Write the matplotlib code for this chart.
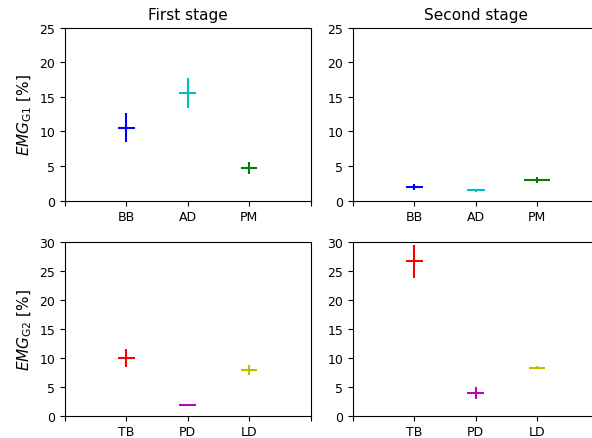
import matplotlib
matplotlib.use('Agg')
import matplotlib.pyplot as plt

# muscles and values
muscles_g1 = ['BB', 'AD', 'PM']
muscles_g2 = ['TB', 'PD', 'LD']
colors_g1 = ['b', 'c', 'g']
colors_g2 = ['r', 'm', 'y']

# first stage
g1_first = [10.5, 15.5, 4.7]
g1_first_err = [2.1, 2.15, 0.8]
g1_first_xerr = [0.136, 0.136, 0.13]
g2_first = [10.0, 1.9, 7.9]
g2_first_err = [1.6, 0.2, 0.8]
g2_first_xerr = [0.136, 0.136, 0.133]

# second stage
g1_second = [2.0, 1.45, 2.95]
g1_second_err = [0.45, 0.15, 0.4]
g1_second_xerr = [0.136, 0.143, 0.21]
g2_second = [26.7, 3.95, 8.3]
g2_second_err = [2.85, 1.0, 0.3]
g2_second_xerr = [0.14, 0.136, 0.136]

plt.rcParams['font.size'] = 9

fig = plt.figure(figsize=(5.92, 4.39), dpi=100)
w, h = 0.4147, 0.394
ax1 = fig.add_axes([0.1098, 0.541, w, h])
ax2 = fig.add_axes([0.5963, 0.541, w, h])
ax3 = fig.add_axes([0.1098, 0.0508, w, 0.395])
ax4 = fig.add_axes([0.5963, 0.0508, w, 0.395])


def draw(ax, names, vals, err, xerr, colors, ymax):
    for i in range(len(names)):
        ax.errorbar(i + 1, vals[i], xerr=xerr[i], yerr=err[i], fmt='none',
                    ecolor=colors[i], elinewidth=1.5)
    ax.set_xlim(0, 4)
    ax.set_xticks([0, 1, 2, 3, 4])
    ax.set_xticklabels([''] + names + [''])
    ax.set_ylim(0, ymax)
    ax.set_yticks(range(0, ymax + 1, 5))


draw(ax1, muscles_g1, g1_first, g1_first_err, g1_first_xerr, colors_g1, 25)
draw(ax2, muscles_g1, g1_second, g1_second_err, g1_second_xerr, colors_g1, 25)
draw(ax3, muscles_g2, g2_first, g2_first_err, g2_first_xerr, colors_g2, 30)
draw(ax4, muscles_g2, g2_second, g2_second_err, g2_second_xerr, colors_g2, 30)

ax1.set_title('First stage', fontsize=11)
ax2.set_title('Second stage', fontsize=11)
ax1.set_ylabel(r'$EMG_{\mathrm{G1}}$ [%]', fontsize=11)
ax3.set_ylabel(r'$EMG_{\mathrm{G2}}$ [%]', fontsize=11)

fig.savefig('out.png', dpi=100)
